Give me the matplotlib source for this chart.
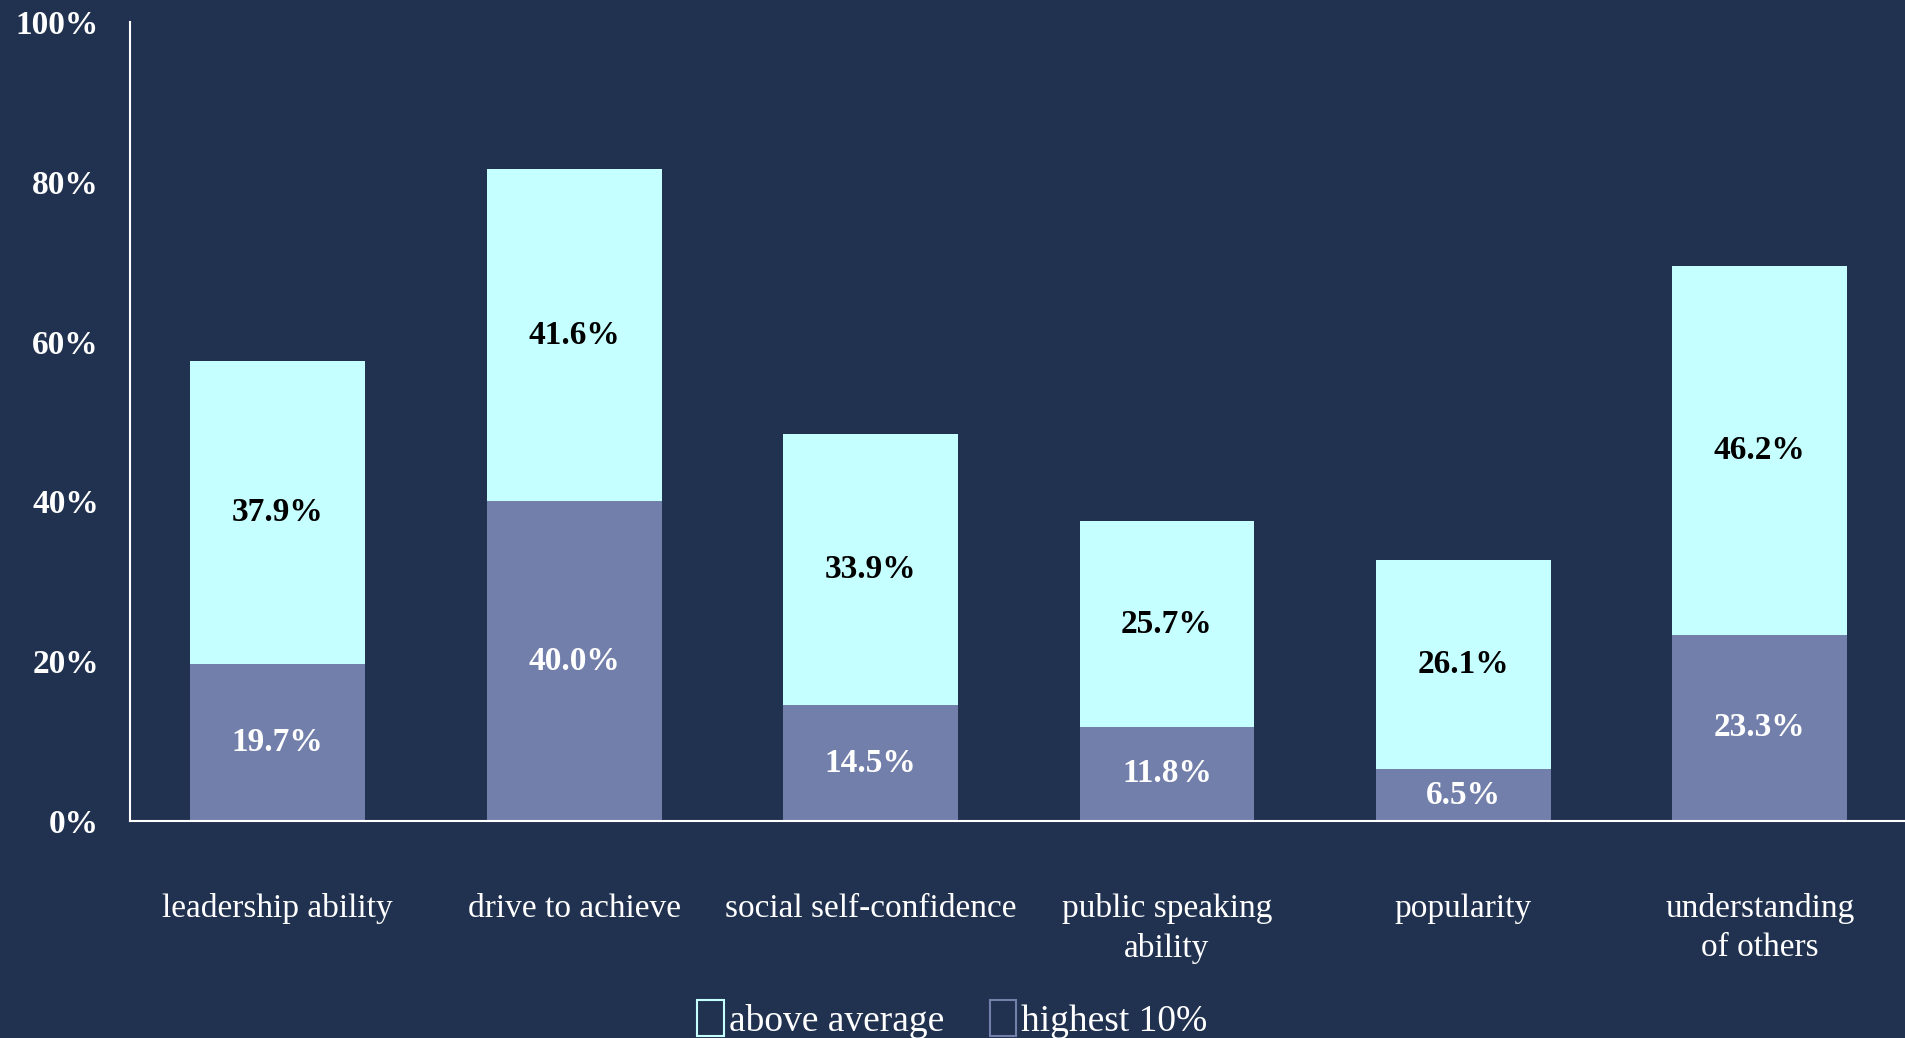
import matplotlib
matplotlib.use("Agg")
import matplotlib.pyplot as plt
from matplotlib.patches import Patch
import numpy as np

categories = ["leadership ability", "drive to achieve", "social self-confidence",
              "public speaking\nability", "popularity", "understanding\nof others"]
highest_10 = [19.7, 40.0, 14.5, 11.8, 6.5, 23.3]
above_avg = [37.9, 41.6, 33.9, 25.7, 26.1, 46.2]
yticks = [0, 20, 40, 60, 80, 100]
ytick_labels = ["0%", "20%", "40%", "60%", "80%", "100%"]
series_names = ["above average", "highest 10%"]

BG = "#213250"
CYAN = "#c6ffff"
PURPLE = "#737fab"

plt.rcParams['font.family'] = ['Liberation Serif', 'DejaVu Serif']

fig = plt.figure(figsize=(19.05, 10.38), dpi=100, facecolor=BG)
ax = fig.add_axes([0.068, 0.209, 0.932, 0.770])
ax.set_facecolor(BG)

x = np.arange(len(categories))
w = 0.59
ax.bar(x, highest_10, width=w, color=PURPLE, zorder=2)
ax.bar(x, above_avg, width=w, bottom=highest_10, color=CYAN, zorder=2)

for xi, h, a in zip(x, highest_10, above_avg):
    ax.text(xi, h / 2, f"{h:.1f}%", ha="center", va="center", color="white",
            fontsize=24, fontweight="bold", zorder=3)
    ax.text(xi, h + a / 2, f"{a:.1f}%", ha="center", va="center", color="black",
            fontsize=24, fontweight="bold", zorder=3)

ax.set_xlim(-0.5, 5.49)
ax.set_ylim(0, 100)
ax.set_yticks(yticks)
ax.set_yticklabels(ytick_labels, fontsize=24, fontweight="bold", color="white")
ax.set_xticks(x)
ax.set_xticklabels(categories, fontsize=24, color="white", linespacing=1.35)
ax.tick_params(axis="y", length=0, pad=22)
ax.tick_params(axis="x", length=0, pad=52)
for s in ["top", "right"]:
    ax.spines[s].set_visible(False)
for s in ["left", "bottom"]:
    ax.spines[s].set_color("white")
    ax.spines[s].set_linewidth(1.5)

handles = [Patch(facecolor="none", edgecolor=CYAN, linewidth=1.5),
           Patch(facecolor="none", edgecolor=PURPLE, linewidth=1.5)]
fig.legend(handles, series_names, loc="lower center", bbox_to_anchor=(0.5, -0.033),
           ncol=2, frameon=False, fontsize=27, labelcolor="white",
           handlelength=0.7, handleheight=1.1, handletextpad=0.15,
           columnspacing=1.2)

fig.savefig("out.png", dpi=100, facecolor=BG)
